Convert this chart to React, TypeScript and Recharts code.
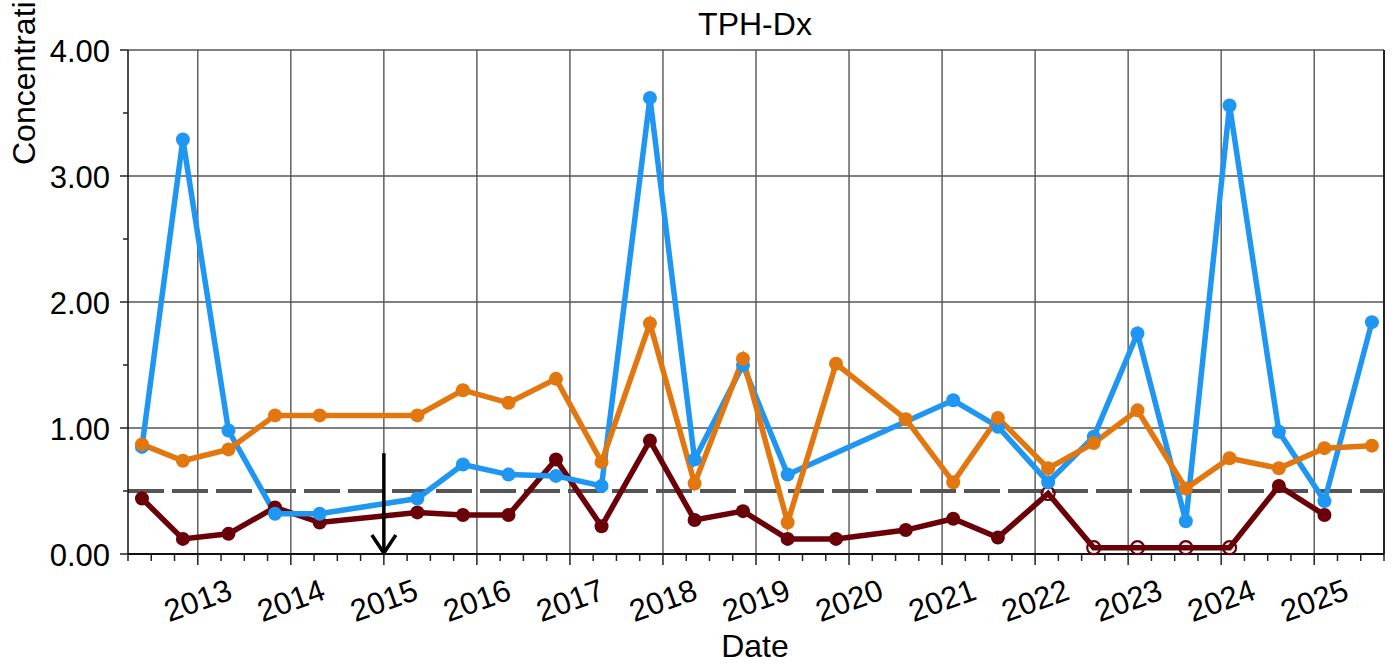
import { LineChart, Line, XAxis, YAxis, ReferenceLine } from "recharts";

// sample dates as decimal years
const sampleDates = [
  2012.4, 2012.84, 2013.33, 2013.83, 2014.31, 2015.36, 2015.85, 2016.34, 2016.85,
  2017.34, 2017.86, 2018.34, 2018.86, 2019.34, 2019.86, 2020.61, 2021.12, 2021.6,
  2022.14, 2022.63, 2023.1, 2023.62, 2024.09, 2024.62, 2025.11, 2025.62,
];

const blueValues = [
  0.85, 3.29, 0.98, 0.32, 0.32, 0.44, 0.71, 0.63, 0.62, 0.54, 3.62, 0.75, 1.5,
  0.63, null, null, 1.22, 1.01, 0.57, 0.93, 1.75, 0.26, 3.56, 0.97, 0.42, 1.84,
];

const orangeValues = [
  0.87, 0.74, 0.83, 1.1, 1.1, 1.1, 1.3, 1.2, 1.39, 0.73, 1.83, 0.56, 1.55, 0.25,
  1.51, 1.07, 0.57, 1.08, 0.68, 0.88, 1.14, 0.52, 0.76, 0.68, 0.84, 0.86,
];

const maroonValues = [
  0.44, 0.12, 0.16, 0.37, 0.25, 0.33, 0.31, 0.31, 0.75, 0.22, 0.9, 0.27, 0.34,
  0.12, 0.12, 0.19, 0.28, 0.13, 0.48, 0.05, 0.05, 0.05, 0.05, 0.54, 0.31, null,
];

// open markers (non-detects)
const maroonNonDetect = [
  false, false, false, false, false, false, false, false, false, false, false,
  false, false, false, false, false, false, false, true, true, true, true, true,
  false, false, false,
];

const xDomain = [2012.25, 2025.75];
const yearTicks = [2013, 2014, 2015, 2016, 2017, 2018, 2019, 2020, 2021, 2022, 2023, 2024, 2025];
const quarterTicks = Array.from({ length: 55 }, (_, k) => 2012.25 + k * 0.25);
const valueTicks = [0, 0.5, 1, 1.5, 2, 2.5, 3, 3.5, 4];
const gridValues = [1, 2, 3, 4];
const arrowDate = 2015;
const limitValue = 0.5;

const BLUE = "#1E96F2";
const ORANGE = "#E2770F";
const MAROON = "#6A0008";
const FONT = "'Liberation Sans', Arial, sans-serif";

const rows = sampleDates.map((t, i) => ({
  t,
  blue: blueValues[i],
  orange: orangeValues[i],
  maroon: maroonValues[i],
  nd: maroonNonDetect[i],
}));

function XTick(props: any) {
  const { x, y, payload } = props;
  const isYear = Number.isInteger(payload.value);
  const cy = y + 46;
  return (
    <g>
      <line x1={x} y1={y} x2={x} y2={y + (isYear ? 11 : 7)} stroke="#222" strokeWidth={1.5} />
      {isYear && (
        <text
          x={x}
          y={cy + 11}
          textAnchor="middle"
          transform={`rotate(-20 ${x} ${cy})`}
          fontSize={31}
          fontFamily={FONT}
          fill="#000"
        >
          {payload.value}
        </text>
      )}
    </g>
  );
}

function YTick(props: any) {
  const { x, y, payload } = props;
  const isMajor = Number.isInteger(payload.value);
  return (
    <g>
      <line x1={x} y1={y} x2={x - (isMajor ? 8 : 5)} y2={y} stroke="#222" strokeWidth={1.5} />
      {isMajor && (
        <text x={x - 18} y={y + 12} textAnchor="end" fontSize={31} fontFamily={FONT} fill="#000">
          {payload.value.toFixed(2)}
        </text>
      )}
    </g>
  );
}

function MaroonDot(props: any) {
  const { cx, cy, payload, index } = props;
  if (cx == null || cy == null || payload.maroon == null) return <g key={`m${index}`} />;
  if (payload.nd) {
    return <circle key={`m${index}`} cx={cx} cy={cy} r={6.5} fill="none" stroke={MAROON} strokeWidth={2.2} />;
  }
  return <circle key={`m${index}`} cx={cx} cy={cy} r={7} fill={MAROON} />;
}

function Arrow(props: any) {
  const { x1, y1, x2, y2 } = props;
  const top = Math.min(y1, y2);
  const bottom = Math.max(y1, y2);
  return (
    <g>
      <line x1={x1} y1={top} x2={x2} y2={bottom - 1} stroke="#000" strokeWidth={3.5} />
      <polyline
        points={`${x1 - 12},${bottom - 19} ${x1},${bottom - 1} ${x1 + 12},${bottom - 19}`}
        fill="none"
        stroke="#000"
        strokeWidth={3.5}
      />
    </g>
  );
}

export default function App() {
  return (
    <div style={{ position: "relative", width: 1396, height: 666, background: "#fff" }}>
      <style>{`body{margin:0}`}</style>
      <LineChart
        width={1396}
        height={666}
        data={rows}
        margin={{ top: 50, right: 12, bottom: 0, left: 0 }}
      >
        <XAxis
          type="number"
          dataKey="t"
          domain={xDomain}
          ticks={quarterTicks}
          interval={0}
          tickSize={0}
          tickMargin={0}
          tickLine={false}
          tick={XTick}
          height={112}
          axisLine={{ stroke: "#111", strokeWidth: 2 }}
        />
        <YAxis
          type="number"
          domain={[0, 4]}
          ticks={valueTicks}
          interval={0}
          tickSize={0}
          tickMargin={0}
          tickLine={false}
          tick={YTick}
          width={128}
          axisLine={{ stroke: "#111", strokeWidth: 1.5 }}
        />
        {yearTicks.map((yr) => (
          <ReferenceLine key={`vx${yr}`} x={yr} stroke="#555" strokeWidth={1.4} />
        ))}
        {gridValues.map((v) => (
          <ReferenceLine key={`hy${v}`} y={v} stroke="#555" strokeWidth={1.4} />
        ))}
        <ReferenceLine x={xDomain[1]} stroke="#222" strokeWidth={2} />
        <ReferenceLine y={limitValue} stroke="#555" strokeWidth={4} strokeDasharray="36 8" />
        <Line
          dataKey="maroon"
          stroke={MAROON}
          strokeWidth={5.5}
          dot={MaroonDot}
          activeDot={false}
          connectNulls
          isAnimationActive={false}
        />
        <Line
          dataKey="blue"
          stroke={BLUE}
          strokeWidth={5.5}
          dot={{ r: 7, fill: BLUE, stroke: BLUE, strokeWidth: 0 }}
          activeDot={false}
          connectNulls
          isAnimationActive={false}
        />
        <Line
          dataKey="orange"
          stroke={ORANGE}
          strokeWidth={5.5}
          dot={{ r: 7, fill: ORANGE, stroke: ORANGE, strokeWidth: 0 }}
          activeDot={false}
          connectNulls
          isAnimationActive={false}
        />
        <ReferenceLine
          segment={[
            { x: arrowDate, y: 0.8 },
            { x: arrowDate, y: 0 },
          ]}
          shape={Arrow}
        />
      </LineChart>
      <svg
        width={1396}
        height={666}
        style={{ position: "absolute", left: 0, top: 0, pointerEvents: "none" }}
      >
        <text x={755} y={35} textAnchor="middle" fontSize={32} fontFamily={FONT} fill="#000">
          TPH-Dx
        </text>
        <text
          transform="translate(35,165) rotate(-90)"
          textAnchor="start"
          fontSize={32}
          fontFamily={FONT}
          fill="#000"
        >
          Concentration (mg/L)
        </text>
        <text x={755} y={657} textAnchor="middle" fontSize={32} fontFamily={FONT} fill="#000">
          Date
        </text>
      </svg>
    </div>
  );
}
